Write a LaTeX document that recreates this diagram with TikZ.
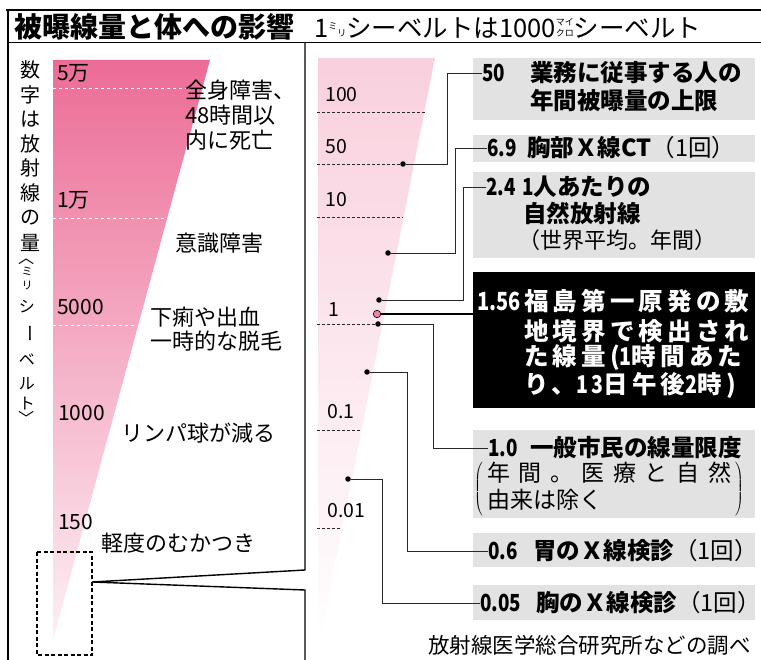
\documentclass[tikz,border=0pt]{standalone}
\usepackage{fontspec}
\setmainfont{Noto Sans CJK JP}
\usepackage{color,tikz}
\definecolor{hipink}{RGB}{236,108,150}
\definecolor{midpink}{RGB}{245,176,198}
\definecolor{lopink}{RGB}{253,240,244}
\definecolor{palepink}{RGB}{249,208,221}
\definecolor{boxgray}{RGB}{226,226,226}
\definecolor{inkgray}{RGB}{40,40,40}
\definecolor{dotpink}{RGB}{238,130,165}
\newcommand{\fs}[1]{\fontsize{#1}{#1}\selectfont}
\newcommand{\cnd}[1]{\scalebox{0.8}[1]{#1}}
\newcommand{\rbmiri}{{\fs{9}\raisebox{0.9em}{ミ}\raisebox{0.1em}{リ}}}
\newcommand{\rbmicro}{\raisebox{0.05em}{\fs{9}\shortstack[l]{マイ\\クロ}}}
\begin{document}
\begin{tikzpicture}
			[x=1pt, y=-1pt,
			lbl/.style={inner sep=0pt, anchor=west},
			tick/.style={densely dashed, inkgray, line width=0.7pt},
			wtick/.style={dashed, white, line width=0.8pt},
			box/.style={fill=boxgray, inner sep=0pt, anchor=north west, minimum width=282pt},
			dot/.style={circle, fill=black, inner sep=0pt, minimum size=5.5pt},
			lead/.style={inkgray, line width=0.9pt}]
			\useasboundingbox (0,0) rectangle (761,660);
			\fill[white] (0,0) rectangle (761,660);
			\draw[line width=1.4pt] (6,10) -- (761,10);
			\draw[line width=1.4pt] (8,10) -- (8,660);
			\draw[line width=1pt] (8,43) -- (761,43);
			\draw[line width=1.4pt] (305,43) -- (305,570) -- (92,582) -- (305,590) -- (305,660);
			\node[lbl, font=\fs{28}\bfseries] (title) at (14,27) {被曝線量と体への影響};
			\node[lbl, font=\fs{25.5}] (sub) at (314,28) {1\rbmiri シーベルトは1000\rbmicro シーベルト};
			\begin{scope}
				\shade[top color=hipink, middle color=midpink, bottom color=lopink] (53,60) -- (210,60) -- (53,640) -- cycle;
				\draw[wtick] (53,88) -- (203,88);
				\draw[wtick] (53,218) -- (168,218);
				\draw[wtick] (53,325) -- (136,325);
				\node[lbl, font=\fs{21}] (k50000) at (57,73) {5万};
				\node[lbl, font=\fs{21}] (k10000) at (57,200) {1万};
				\node[lbl, font=\fs{21}] (k5000) at (57,307) {5000};
				\node[lbl, font=\fs{21}] (k1000) at (58,413) {1000};
				\node[lbl, font=\fs{21}] (k150) at (58,522) {150};
				\node[lbl, font=\fs{22}] (e1a) at (185,90) {全身障害、};
				\node[lbl, font=\fs{22}] (e1b) at (185,115) {48時間以};
				\node[lbl, font=\fs{22}] (e1c) at (185,140) {内に死亡};
				\node[lbl, font=\fs{22}] (e2) at (175,243) {意識障害};
				\node[lbl, font=\fs{22}] (e3a) at (150,317) {下痢や出血};
				\node[lbl, font=\fs{22}] (e3b) at (150,341) {一時的な脱毛};
				\node[lbl, font=\fs{22}] (e4) at (121,433) {リンパ球が減る};
				\node[lbl, font=\fs{22}] (e5) at (101,543) {軽度のむかつき};
				\foreach \c/\y [count=\i] in {数/70,字/95,は/119,放/144,射/168,線/193,の/218,量/243}
					\node[font=\fs{20}, inner sep=0pt] (v\i) at (30,\y) {\c};
				\foreach \c/\y/\r/\s [count=\i] in {〈/258/-90/16,ミ/271/0/11,リ/286/0/11,シ/307/0/16,ー/334/-90/18,ベ/360/0/16,ル/384/0/16,ト/404/0/16,〉/419/-90/16}
					\node[font=\fs{\s}, inner sep=0pt, rotate=\r] (u\i) at (27,\y) {\c};
				\draw[line width=2.4pt, dash pattern=on 4pt off 2.5pt] (37,552) rectangle (92,655);
			\end{scope}
			\begin{scope}
				\shade[top color=palepink, bottom color=white] (318,58) -- (435,58) -- (318,650) -- cycle;
				\node[dot] (d50) at (403,164) {};
				\node[dot] (d69) at (388,253) {};
				\node[dot] (d24) at (379,300) {};
				\node[dot, fill=dotpink, draw=black, line width=0.6pt, minimum size=7.5pt] (dfk) at (377,314) {};
				\node[dot] (d10) at (378,324) {};
				\node[dot] (d06) at (367,372) {};
				\node[dot] (d005) at (348,479) {};
				\draw[tick] (317,112) -- (425,112);
				\draw[tick] (317,164) -- (d50);
				\draw[tick] (317,217) -- (403,217);
				\draw[tick] (317,324) -- (d10);
				\draw[tick] (317,430) -- (360,430);
				\draw[tick] (317,528) -- (340,528);
				\node[lbl, font=\fs{19.5}] (r100) at (325,95) {100};
				\node[lbl, font=\fs{19.5}] (r50) at (325,147) {50};
				\node[lbl, font=\fs{19.5}] (r10) at (325,200) {10};
				\node[lbl, font=\fs{19.5}] (r1) at (328,310) {1};
				\node[lbl, font=\fs{19.5}] (r01) at (327,412) {0.1};
				\node[lbl, font=\fs{19.5}] (r001) at (327,511) {0.01};
			\end{scope}
			\begin{scope}[font=\fs{23.5}\bfseries]
				\node[box, minimum height=62pt] (b50) at (473,58) {};
				\node[box, minimum height=27pt] (b69) at (473,135) {};
				\node[box, minimum height=86pt] (b24) at (473,172) {};
				\node[box, fill=black, minimum height=136pt] (b156) at (473,272) {};
				\node[box, minimum height=88pt] (b10) at (473,430) {};
				\node[box, minimum height=34pt] (b06) at (473,533) {};
				\node[box, minimum height=35pt] (b005) at (473,585) {};
				\node[lbl] (n50) at (482,73) {\cnd{50}};
				\node[lbl] (t50a) at (530,73) {業務に従事する人の};
				\node[lbl] (t50b) at (530,101) {年間被曝量の上限};
				\node[lbl] (n69) at (487,148) {\cnd{6.9}};
				\node[lbl] (t69) at (527,148) {胸部Ｘ線CT{\mdseries（1回）}};
				\node[lbl] (n24) at (486,187) {\cnd{2.4}};
				\node[lbl] (t24a) at (522,187) {\cnd{1}人あたりの};
				\node[lbl] (t24b) at (523,213) {自然放射線};
				\node[lbl, font=\fs{22}\mdseries] (t24c) at (518,240) {（世界平均。年間）};
				\node[lbl, white, font=\fs{25}\bfseries] (n156) at (477,301) {\cnd{1.56}};
				\begin{scope}[white, font=\fs{24.5}\bfseries\addfontfeatures{LetterSpace=17}]
					\node[lbl] (t156a) at (524,301) {福島第一原発の敷};
					\node[lbl] (t156b) at (524,331) {地境界で検出され};
					\node[lbl] (t156c) at (524,358) {た線量(\cnd{1}時間あた};
					\node[lbl] (t156d) at (524,385) {り、\cnd{13}日午後\cnd{2}時)};
				\end{scope}
				\node[lbl] (n10) at (488,448) {\cnd{1.0}};
				\node[lbl] (t10) at (530,448) {一般市民の線量限度};
				\node[lbl, font=\fs{23}\mdseries] (p10) at (474,489) {$\left(\,\renewcommand{\arraystretch}{1.1}\begin{tabular}{@{}l@{}}\makebox[244pt][s]{年\hfill 間\hfill 。\hfill 医\hfill 療\hfill と\hfill 自\hfill 然}\\由来は除く\end{tabular}\,\right)$};
				\node[lbl] (n06) at (488,551) {\cnd{0.6}};
				\node[lbl] (t06) at (533,551) {胃のＸ線検診{\mdseries（1回）}};
				\node[lbl] (n005) at (480,603) {\cnd{0.05}};
				\node[lbl] (t005) at (536,603) {胸のＸ線検診{\mdseries（1回）}};
			\end{scope}
			\draw[lead] (d50) -- ++(44,0) |- (n50.west);
			\draw[lead] (d69) -- ++(67,0) |- (n69.west);
			\draw[lead] (d24) -- ++(84,0) |- (n24.west);
			\draw[line width=1.8pt] (dfk) -- (dfk -| b156.west);
			\draw[lead] (d10) -- ++(55,0) |- (n10.west);
			\draw[lead] (d06) -- ++(40,0) |- (n06.west);
			\draw[lead] (d005) -- ++(34,0) |- (n005.west);
			\node[lbl, font=\fs{21.5}] (src) at (428,645) {放射線医学総合研究所などの調べ};
		\end{tikzpicture}
\end{document}
